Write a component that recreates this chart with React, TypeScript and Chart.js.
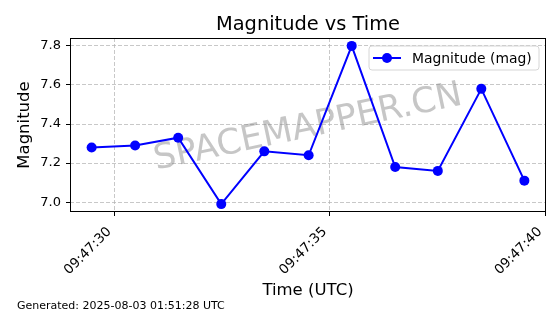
import React, { useEffect, useRef } from "react";
import { Chart, registerables } from "chart.js";

Chart.register(...registerables);

// seconds past 09:47:00 UTC
const timeSeconds = [29.47, 30.48, 31.48, 32.48, 33.48, 34.51, 35.51, 36.52, 37.51, 38.52, 39.52];
const magnitudes = [7.28, 7.29, 7.33, 6.99, 7.26, 7.24, 7.8, 7.18, 7.16, 7.58, 7.11];
const xTickSeconds = [30, 35, 40];
const yTickValues = [7.0, 7.2, 7.4, 7.6, 7.8];

const TITLE = "Magnitude vs Time";
const X_LABEL = "Time (UTC)";
const Y_LABEL = "Magnitude";
const SERIES_LABEL = "Magnitude (mag)";
const FOOTER = "Generated: 2025-08-03 01:51:28 UTC";
const WATERMARK = "SPACEMAPPER.CN";

const FONT = "'DejaVu Sans', sans-serif";

function pad2(n: number) {
  return String(n).padStart(2, "0");
}

export default function App() {
  const ref = useRef<HTMLCanvasElement | null>(null);

  useEffect(() => {
    const canvas = ref.current;
    if (!canvas) return;

    const xMinD = Math.min(...timeSeconds);
    const xMaxD = Math.max(...timeSeconds);
    const yMinD = Math.min(...magnitudes);
    const yMaxD = Math.max(...magnitudes);
    const xm = (xMaxD - xMinD) * 0.05;
    const ym = (yMaxD - yMinD) * 0.05;

    const decor = {
      id: "decor",
      beforeDatasetsDraw(chart: any) {
        const { ctx, chartArea: a } = chart;
        ctx.save();
        ctx.beginPath();
        ctx.rect(a.left, a.top, a.right - a.left, a.bottom - a.top);
        ctx.clip();
        ctx.translate((a.left + a.right) / 2, (a.top + a.bottom) / 2 + 3);
        ctx.rotate((-12 * Math.PI) / 180);
        ctx.font = `35px ${FONT}`;
        ctx.fillStyle = "rgba(128,128,128,0.45)";
        ctx.textAlign = "center";
        ctx.textBaseline = "middle";
        ctx.fillText(WATERMARK, 0, 0);
        ctx.restore();
      },
      afterDraw(chart: any) {
        const { ctx, chartArea: a } = chart;
        ctx.save();
        // frame
        ctx.strokeStyle = "#000";
        ctx.lineWidth = 1;
        ctx.strokeRect(Math.round(a.left) + 0.5, Math.round(a.top) + 0.5, Math.round(a.right - a.left) - 1, Math.round(a.bottom - a.top) - 1);

        // legend
        const lx = 369, ly = 46, lw = 170, lh = 24;
        ctx.beginPath();
        const r = 3;
        ctx.moveTo(lx + r, ly);
        ctx.lineTo(lx + lw - r, ly);
        ctx.arcTo(lx + lw, ly, lx + lw, ly + r, r);
        ctx.lineTo(lx + lw, ly + lh - r);
        ctx.arcTo(lx + lw, ly + lh, lx + lw - r, ly + lh, r);
        ctx.lineTo(lx + r, ly + lh);
        ctx.arcTo(lx, ly + lh, lx, ly + lh - r, r);
        ctx.lineTo(lx, ly + r);
        ctx.arcTo(lx, ly, lx + r, ly, r);
        ctx.closePath();
        ctx.fillStyle = "rgba(255,255,255,0.8)";
        ctx.fill();
        ctx.strokeStyle = "#d6d6d6";
        ctx.stroke();
        ctx.beginPath();
        ctx.moveTo(373, 58);
        ctx.lineTo(401, 58);
        ctx.strokeStyle = "#0000ff";
        ctx.lineWidth = 2;
        ctx.stroke();
        ctx.beginPath();
        ctx.arc(387, 58, 5, 0, Math.PI * 2);
        ctx.fillStyle = "#0000ff";
        ctx.fill();
        ctx.fillStyle = "#000";
        ctx.font = `13.9px ${FONT}`;
        ctx.textAlign = "left";
        ctx.textBaseline = "alphabetic";
        ctx.fillText(chart.data.datasets[0].label, 412, 63);

        // title
        ctx.font = `19.4px ${FONT}`;
        ctx.textAlign = "center";
        ctx.fillText(TITLE, (a.left + a.right) / 2, 30);

        // x label
        ctx.font = `16.5px ${FONT}`;
        ctx.fillText(X_LABEL, (a.left + a.right) / 2, 295);

        // y label
        ctx.save();
        ctx.translate(29, (a.top + a.bottom) / 2);
        ctx.rotate(-Math.PI / 2);
        ctx.fillText(Y_LABEL, 0, 0);
        ctx.restore();

        // footer
        ctx.font = `11px ${FONT}`;
        ctx.textAlign = "left";
        ctx.fillText(FOOTER, 17, 309);
        ctx.restore();
      },
    };

    const chart = new Chart(canvas, {
      type: "line",
      data: {
        datasets: [
          {
            label: SERIES_LABEL,
            data: timeSeconds.map((t, i) => ({ x: t, y: magnitudes[i] })),
            borderColor: "#0000ff",
            backgroundColor: "#0000ff",
            borderWidth: 2,
            pointRadius: 5,
            pointBorderWidth: 0,
            pointBackgroundColor: "#0000ff",
            tension: 0,
            clip: false as any,
          },
        ],
      },
      options: {
        animation: false,
        responsive: false,
        devicePixelRatio: 1,
        layout: { padding: { left: 0, top: 38, right: 14, bottom: 0 } },
        plugins: {
          legend: { display: false },
          title: { display: false },
          tooltip: { enabled: false },
        },
        scales: {
          x: {
            type: "linear",
            min: xMinD - xm,
            max: xMaxD + xm,
            afterFit(scale: any) {
              scale.height = 102;
              scale.paddingLeft = 0;
              scale.paddingRight = 0;
            },
            afterBuildTicks(scale: any) {
              scale.ticks = xTickSeconds.map((v) => ({ value: v }));
            },
            ticks: {
              minRotation: 45,
              maxRotation: 45,
              color: "#000",
              padding: 8,
              labelOffset: -5,
              font: { family: FONT, size: 13.5 },
              callback: (v: any) => `09:47:${pad2(Math.round(Number(v)))}`,
            },
            grid: {
              color: "rgba(176,176,176,0.7)",
              lineWidth: 1,
              tickColor: "#000",
              tickLength: 4,
              tickBorderDash: [],
            } as any,
            border: { display: false, dash: [4, 2] },
          },
          y: {
            type: "linear",
            min: yMinD - ym,
            max: yMaxD + ym,
            afterFit(scale: any) {
              scale.width = 70;
              scale.paddingTop = 0;
              scale.paddingBottom = 0;
            },
            afterBuildTicks(scale: any) {
              scale.ticks = yTickValues.map((v) => ({ value: v }));
            },
            ticks: {
              color: "#000",
              padding: 5,
              font: { family: FONT, size: 13 },
              callback: (v: any) => Number(v).toFixed(1),
            },
            grid: {
              color: "rgba(176,176,176,0.7)",
              lineWidth: 1,
              tickColor: "#000",
              tickLength: 4,
              tickBorderDash: [],
            } as any,
            border: { display: false, dash: [4, 2] },
          },
        },
      },
      plugins: [decor],
    } as any);

    return () => chart.destroy();
  }, []);

  return (
    <div style={{ position: "absolute", left: 0, top: 0, width: 560, height: 314, background: "#fff" }}>
      <canvas ref={ref} width={560} height={314} style={{ display: "block" }} />
    </div>
  );
}
